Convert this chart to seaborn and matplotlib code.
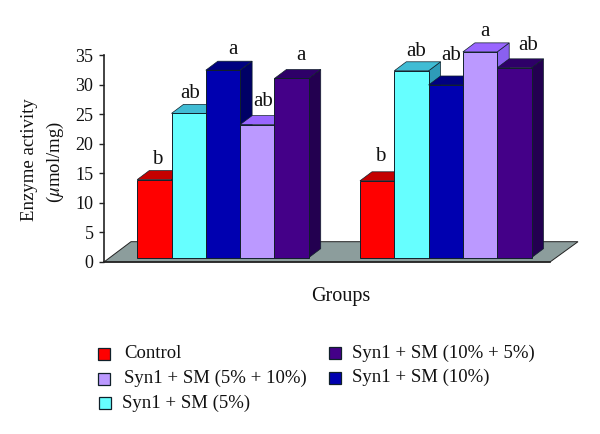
import matplotlib
matplotlib.use("Agg")
import matplotlib.pyplot as plt
import seaborn as sns
import pandas as pd
from matplotlib.patches import Rectangle

W, H = 600, 434
sns.set_theme(style="white")
plt.rcParams["font.family"] = ["Liberation Serif", "DejaVu Serif"]
plt.rcParams["mathtext.fontset"] = "stix"

groups = ["Group 1", "Group 2"]
treatments = ["Control", "Syn1 + SM (5%)", "Syn1 + SM (10%)", "Syn1 + SM (5% + 10%)", "Syn1 + SM (10% + 5%)"]
group1_values = [13.2, 24.4, 31.7, 22.5, 30.3]
group2_values = [13.0, 31.6, 29.2, 34.8, 32.1]
sig_group1 = ["b", "ab", "a", "ab", "a"]
sig_group2 = ["b", "ab", "ab", "a", "ab"]
yticks = [0, 5, 10, 15, 20, 25, 30, 35]

front = ["#ff0000", "#66ffff", "#0000b0", "#bb99ff", "#440088"]
top = ["#c40000", "#40bcd4", "#000080", "#9966ff", "#2e0068"]
side = ["#c40000", "#2e9cb8", "#000066", "#8a60f0", "#230050"]
floor_color = "#8c9d9c"
edge = "#10202a"
text_color = "#111111"

df = pd.DataFrame({
    "group": [g for g in groups for _ in treatments],
    "treatment": treatments * 2,
    "value": group1_values + group2_values,
})

fig = plt.figure(figsize=(W / 100, H / 100), dpi=100, facecolor="white")
ax = fig.add_axes([104 / W, 1 - 262 / H, 446 / W, 207 / H])
ax.set_facecolor("none")

BASE = 0.73  # front edge of the 3D floor, in value units
sns.barplot(data=df, x="group", y="value", hue="treatment", hue_order=treatments,
            palette=dict(zip(treatments, front)), saturation=1, width=0.77, gap=0,
            legend=False, ax=ax, bottom=BASE, edgecolor=edge, linewidth=0.7)

ax.set_xlim(-0.534, 1.468)
ax.set_ylim(0, 35)
ax.set_yticks(yticks)
ax.set_xticks([])
ax.set_xlabel("")
ax.set_ylabel("")
ax.tick_params(axis="y", left=True, length=3.6, width=1, color="#222222", pad=4,
               labelsize=13, labelcolor=text_color)
for s in ["top", "right"]:
    ax.spines[s].set_visible(False)
for s in ["left", "bottom"]:
    ax.spines[s].set_color("#222222")
    ax.spines[s].set_linewidth(1.2)
    ax.spines[s].set_zorder(50)

xs = (ax.get_xlim()[1] - ax.get_xlim()[0]) / 446
ys = 35 / 207
dx, dy = 12 * xs, 9 * ys

# floor of the 3D scene
ax.fill([ax.get_xlim()[0], ax.get_xlim()[0] + 27 * xs,
         ax.get_xlim()[1] + 28 * xs, ax.get_xlim()[1]],
        [0, 20.3 * ys, 20.3 * ys, 0], facecolor=floor_color, edgecolor="#222222",
        linewidth=0.7, clip_on=False, zorder=1)

bars = [p for p in ax.patches if isinstance(p, Rectangle) and p.get_width() > 0]
bars = sorted(bars, key=lambda p: p.get_x())
color_by_front = {matplotlib.colors.to_hex(c): i for i, c in enumerate(front)}
z = 2
for b in bars:
    i = color_by_front[matplotlib.colors.to_hex(b.get_facecolor())]
    x0, x1 = b.get_x(), b.get_x() + b.get_width()
    y0, y1 = b.get_y(), b.get_y() + b.get_height()
    ax.fill([x1, x1 + dx, x1 + dx, x1], [y0, y0 + dy, y1 + dy, y1], facecolor=side[i],
            edgecolor=edge, linewidth=0.5, clip_on=False, zorder=z)
    ax.fill([x0, x0 + dx, x1 + dx, x1], [y1, y1 + dy, y1 + dy, y1], facecolor=top[i],
            edgecolor=edge, linewidth=0.5, clip_on=False, zorder=z + 1)
    b.set_zorder(z + 2)
    b.set_clip_on(False)
    z += 3


def ftext(px, py, s, **kw):
    kw.setdefault("color", text_color)
    kw.setdefault("fontsize", 13.5)
    kw.setdefault("ha", "center")
    kw.setdefault("va", "center")
    return fig.text(px / W, 1 - py / H, s, **kw)


label_x = [157, 190, 233, 263, 301, 380, 416, 451, 485, 528]
label_y = [159, 93, 49, 102, 56, 157, 51, 56, 32, 46]
for px, py, s in zip(label_x, label_y, sig_group1 + sig_group2):
    ftext(px, py, s, fontsize=15, zorder=100)

ftext(341, 297, "Groups", fontsize=14.5)
ftext(30, 160, "Enzyme activity", rotation=90, fontsize=13.5)
ftext(55, 162, r"($\mu$mol/mg)", rotation=90, fontsize=13.5)

legend_squares = [(104, 354, 0), (104, 379, 3), (105, 403, 1), (335, 353, 4), (335, 378, 2)]
legend_text = [(124, 353, 0), (124, 378, 3), (122, 403, 1), (352, 353, 4), (352, 377, 2)]
for px, py, i in legend_squares:
    fig.add_artist(Rectangle(((px - 6) / W, 1 - (py + 6) / H), 12 / W, 12 / H, transform=fig.transFigure,
                             facecolor=front[i], edgecolor=edge, linewidth=0.9))
for px, py, i in legend_text:
    ftext(px, py, treatments[i], ha="left")

fig.savefig("out.png", dpi=100)
